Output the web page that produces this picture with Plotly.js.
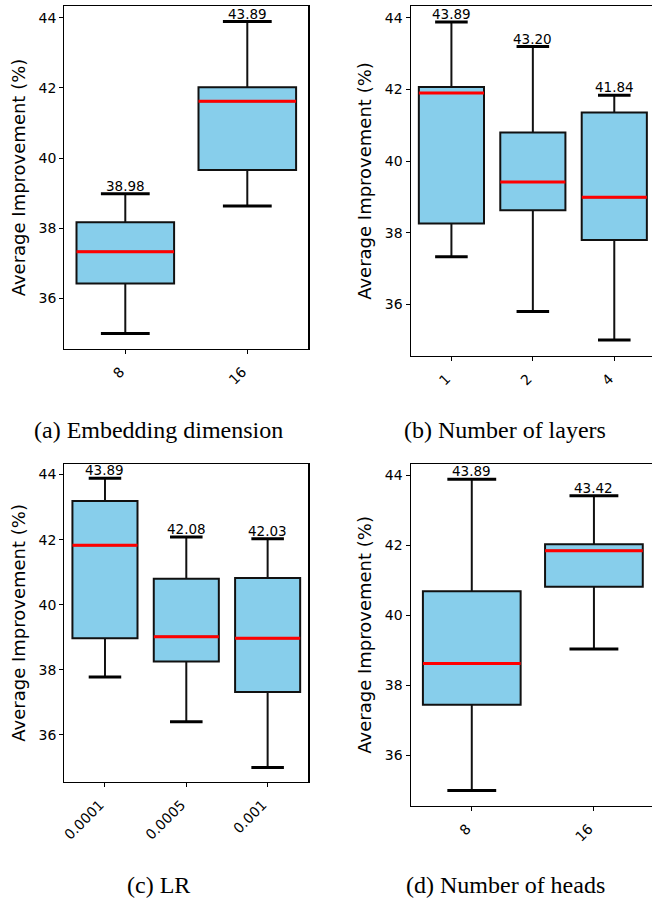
<!DOCTYPE html>
<html>
<head>
<meta charset="utf-8">
<script src="https://cdn.plot.ly/plotly-3.0.1.min.js"></script>
<style>
html,body{margin:0;padding:0;overflow:hidden;background:#fff;}
#chart{width:660px;height:901px;}
</style>
</head>
<body>
<div id="chart"></div>
<script>
// (a) Embedding dimension
const catsA = ['8', '16'];
const lowerA = [35.00, 38.63];
const q1A = [36.42, 39.66];
const medA = [37.33, 41.62];
const q3A = [38.17, 42.02];
const upperA = [38.98, 43.89];

// (b) Number of layers
const catsB = ['1', '2', '4'];
const lowerB = [37.33, 35.80, 35.00];
const q1B = [38.26, 38.63, 37.80];
const medB = [41.90, 39.42, 38.99];
const q3B = [42.07, 40.80, 41.36];
const upperB = [43.89, 43.20, 41.84];

// (c) LR
const catsC = ['0.0001', '0.0005', '0.001'];
const lowerC = [37.78, 36.41, 35.00];
const q1C = [38.97, 38.26, 37.32];
const medC = [41.83, 39.02, 38.97];
const q3C = [43.19, 40.80, 40.82];
const upperC = [43.89, 42.08, 42.03];

// (d) Number of heads
const catsD = ['8', '16'];
const lowerD = [35.00, 39.04];
const q1D = [37.45, 40.82];
const medD = [38.63, 41.85];
const q3D = [40.69, 42.03];
const upperD = [43.89, 43.42];

const captions = ['(a) Embedding dimension', '(b) Number of layers', '(c) LR', '(d) Number of heads'];
const yTitle = 'Average Improvement (%)';
const yTicks = [36, 38, 40, 42, 44];

const panels = [
  {cats: catsA, lo: lowerA, q1: q1A, med: medA, q3: q3A, hi: upperA},
  {cats: catsB, lo: lowerB, q1: q1B, med: medB, q3: q3B, hi: upperB},
  {cats: catsC, lo: lowerC, q1: q1C, med: medC, q3: q3C, hi: upperC},
  {cats: catsD, lo: lowerD, q1: q1D, med: medD, q3: q3D, hi: upperD}
];

const W = 660, H = 901;
// plot-area pixel boxes [x0, x1, y0, y1]
const boxes = [
  [64.3, 308.3, 6, 349],
  [410.7, 655, 6, 356],
  [64.3, 308.3, 463.7, 782],
  [410.7, 655, 463.7, 806]
];
const capPos = [[158, 430], [505, 430], [158, 885], [505, 885]];

const traces = [];
const layout = {
  width: W, height: H,
  margin: {l: 0, r: 0, t: 0, b: 0},
  paper_bgcolor: '#fff', plot_bgcolor: '#fff',
  showlegend: false,
  boxmode: 'overlay',
  hovermode: false,
  annotations: []
};

const tickFont = {family: 'DejaVu Sans', size: 14, color: '#000'};

function flatBox(xa, ya, cats, vals, width, color, lw) {
  return {
    type: 'box', xaxis: xa, yaxis: ya,
    x: cats, q1: vals, median: vals, q3: vals,
    lowerfence: vals, upperfence: vals,
    width: width, whiskerwidth: 0, boxpoints: false,
    fillcolor: 'rgba(0,0,0,0)',
    line: {color: color, width: lw},
    hoverinfo: 'skip'
  };
}

panels.forEach((p, i) => {
  const n = i + 1;
  const xa = n === 1 ? 'x' : 'x' + n;
  const ya = n === 1 ? 'y' : 'y' + n;
  const b = boxes[i];
  layout['xaxis' + (n === 1 ? '' : n)] = {
    domain: [b[0] / W, b[1] / W],
    anchor: ya,
    type: 'category',
    range: [-0.5, p.cats.length - 0.5],
    showline: true, mirror: true, linecolor: '#000', linewidth: 1.2,
    ticks: 'outside', ticklen: 4, tickwidth: 1, tickcolor: '#000',
    tickangle: -45, tickfont: tickFont,
    ticklabelshift: -5, ticklabelstandoff: 4,
    showgrid: false, zeroline: false, fixedrange: true
  };
  layout['yaxis' + (n === 1 ? '' : n)] = {
    domain: [1 - b[3] / H, 1 - b[2] / H],
    anchor: xa,
    range: [34.556, 44.334],
    tickvals: yTicks, ticktext: yTicks.map(String),
    showline: true, mirror: true, linecolor: '#000', linewidth: 1.2,
    ticks: 'outside', ticklen: 4, tickwidth: 1, tickcolor: '#000',
    tickfont: tickFont,
    showgrid: false, zeroline: false, fixedrange: true,
    title: {text: yTitle, font: {family: 'DejaVu Sans', size: 18, color: '#000'}, standoff: 8}
  };
  traces.push({
    type: 'box', xaxis: xa, yaxis: ya,
    x: p.cats, q1: p.q1, median: p.med, q3: p.q3,
    lowerfence: p.lo, upperfence: p.hi,
    width: 0.8, whiskerwidth: 0, boxpoints: false,
    fillcolor: '#87CEEB',
    line: {color: '#111', width: 2},
    hoverinfo: 'skip'
  });
  // whisker caps
  traces.push(flatBox(xa, ya, p.cats, p.hi, 0.4, '#000', 3));
  traces.push(flatBox(xa, ya, p.cats, p.lo, 0.4, '#000', 3));
  // median line
  traces.push(flatBox(xa, ya, p.cats, p.med, 0.8, '#ff0000', 3));
  p.cats.forEach((c, j) => {
    layout.annotations.push({
      xref: xa, yref: ya, x: j, y: p.hi[j],
      text: p.hi[j].toFixed(2), showarrow: false,
      yanchor: 'bottom', yshift: -1, borderpad: 0,
      font: {family: 'DejaVu Sans', size: 13.5, color: '#000'}
    });
  });
  layout.annotations.push({
    xref: 'paper', yref: 'paper',
    x: capPos[i][0] / W, y: 1 - capPos[i][1] / H,
    xanchor: 'center', yanchor: 'middle',
    text: captions[i], showarrow: false,
    font: {family: 'Liberation Serif', size: 24, color: '#000'}
  });
});

Plotly.newPlot('chart', traces, layout, {staticPlot: true, displayModeBar: false});
</script>
</body>
</html>
